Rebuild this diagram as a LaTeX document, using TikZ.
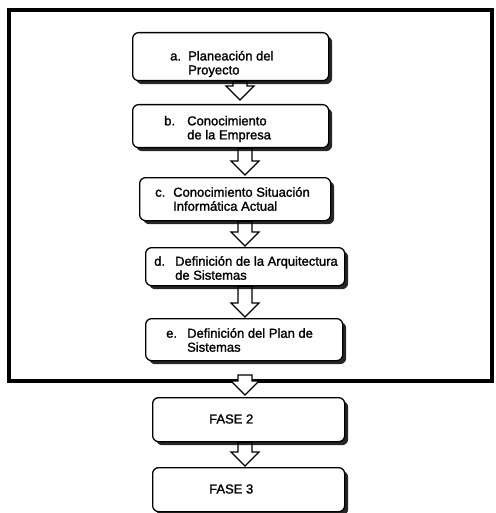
\documentclass[tikz,border=0pt]{standalone}
\usepackage{fontspec}
\setmainfont{Liberation Sans}
\newfontfamily\stagefont{Liberation Sans}[FakeBold=1.4]
\usetikzlibrary{calc,shadows}
\pgfdeclarelayer{background}
\pgfsetlayers{background,main}

% flow arrow: hollow block arrow from a start point down to a tip
\newcommand{\blockarrow}[2]{%
  \draw[flowarr] ($(#1)+(-7,0)$) -- ($(#2)+(-7,-14)$) -- ($(#2)+(-14,-14)$)
    -- (#2) -- ($(#2)+(14,-14)$) -- ($(#2)+(7,-14)$) -- ($(#1)+(7,0)$) -- cycle;}

\tikzset{
  stage/.style={draw=black, line width=1.3pt, rounded corners=6pt, fill=white,
    anchor=north west, inner sep=0pt,
    drop shadow={shadow xshift=3.5pt, shadow yshift=-3.5pt, fill=black, opacity=0.85}},
  lbl/.style={anchor=west, inner sep=0pt, align=left,
    font=\stagefont\fontsize{13}{14}\selectfont},
  flowarr/.style={draw=black, line width=1.2pt, fill=white, line join=miter},
  frame/.style={draw=black, line width=4pt}
}

\begin{document}
\begin{tikzpicture}[x=1pt, y=-1pt]
\useasboundingbox (0,0) rectangle (495,513);

% stage boxes
\node[stage, minimum width=196pt, minimum height=48pt] (a) at (132,32) {};
\node[stage, minimum width=196pt, minimum height=43pt] (b) at (132,104) {};
\node[stage, minimum width=191pt, minimum height=43pt] (c) at (139,177) {};
\node[stage, minimum width=199pt, minimum height=38pt] (d) at (145,247) {};
\node[stage, minimum width=197pt, minimum height=42pt] (e) at (145,318) {};
\node[stage, minimum width=192pt, minimum height=44pt] (f2) at (152,397) {};
\node[stage, minimum width=192pt, minimum height=44pt] (f3) at (152,467) {};

% texts
\node[lbl] (ta) at (170,64) {\makebox[18pt][l]{a.}Planeación del\\\hspace*{18pt}Proyecto};
\node[lbl] (tb) at (164,129) {\makebox[23pt][l]{b.}Conocimiento\\\hspace*{23pt}de la Empresa};
\node[lbl] (tc) at (155,199) {\makebox[18pt][l]{c.}Conocimiento Situación\\\hspace*{18pt}Informática Actual};
\node[lbl] (td) at (154,268) {\makebox[21pt][l]{d.}Definición de la Arquitectura\\\hspace*{21pt}de Sistemas};
\node[lbl] (te) at (166,340) {\makebox[21pt][l]{e.}Definición del Plan de\\\hspace*{21pt}Sistemas};
\node[lbl] (tf2) at (209,419) {FASE 2};
\node[lbl] (tf3) at (209,489) {FASE 3};

% arrow columns
\coordinate (ax) at (240,0);
\coordinate (bx) at (245,0);
\coordinate (gate) at (245,375);

\begin{pgfonlayer}{background}
  % phase-one frame
  \draw[frame] (9,10) rectangle (492,381);
  \coordinate (s1) at (a.south -| ax); \coordinate (e1) at ($(b.north -| ax)+(0,-4)$);
  \blockarrow{s1}{e1}
  \coordinate (s2) at (b.south -| bx); \coordinate (e2) at ($(c.north -| bx)+(0,-2)$);
  \blockarrow{s2}{e2}
  \coordinate (s3) at (c.south -| bx); \coordinate (e3) at ($(d.north -| bx)+(0,-1)$);
  \blockarrow{s3}{e3}
  \coordinate (s4) at (d.south -| bx); \coordinate (e4) at ($(e.north -| bx)+(0,-1)$);
  \blockarrow{s4}{e4}
  \coordinate (e5) at ($(f2.north -| bx)+(0,-2)$);
  \blockarrow{gate}{e5}
  \coordinate (s6) at (f2.south -| bx); \coordinate (e6) at ($(f3.north -| bx)+(0,-1)$);
  \blockarrow{s6}{e6}
\end{pgfonlayer}
\end{tikzpicture}
\end{document}
